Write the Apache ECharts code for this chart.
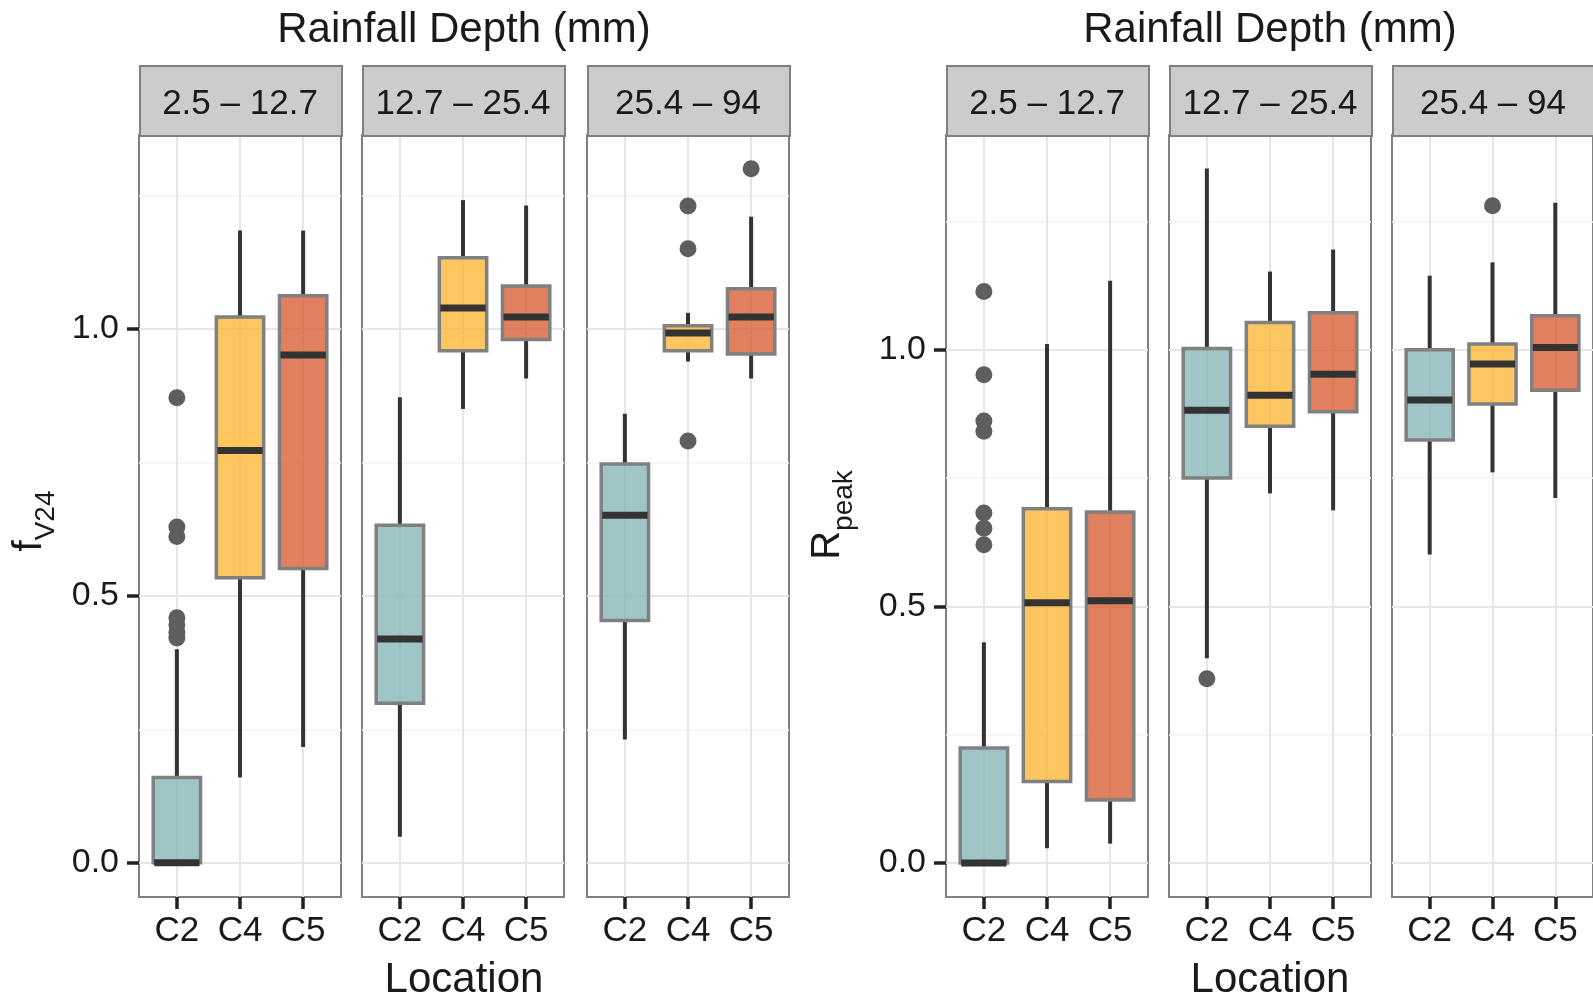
<!DOCTYPE html>
<html>
<head>
<meta charset="utf-8">
<script src="https://cdn.jsdelivr.net/npm/echarts@6/dist/echarts.min.js"></script>
<style>
html,body{margin:0;padding:0;background:#ffffff;}
#main{width:1593px;height:997px;}
</style>
</head>
<body>
<div id="main"></div>
<script>
// ---------------- data ----------------
const categories = ['C2', 'C4', 'C5'];
const depthBins = ['2.5 \u2013 12.7', '12.7 \u2013 25.4', '25.4 \u2013 94'];
const yTickValues = [0, 0.5, 1.0];
const yMinorValues = [0.25, 0.75, 1.25];
const panelTitle = 'Rainfall Depth (mm)';
const xTitle = 'Location';

// five-number summaries [lower whisker, Q1, median, Q3, upper whisker] for C2, C4, C5
const fv24Bin1 = [[0.000, 0.000, 0.000, 0.160, 0.400], [0.160, 0.534, 0.772, 1.022, 1.184], [0.217, 0.551, 0.951, 1.062, 1.184]];
const fv24Bin2 = [[0.049, 0.299, 0.419, 0.632, 0.872], [0.850, 0.959, 1.039, 1.133, 1.241], [0.907, 0.980, 1.022, 1.080, 1.231]];
const fv24Bin3 = [[0.231, 0.454, 0.651, 0.747, 0.841], [0.939, 0.959, 0.992, 1.006, 1.030], [0.907, 0.953, 1.022, 1.075, 1.210]];
const fv24Out1 = [['C2', 0.871], ['C2', 0.629], ['C2', 0.611], ['C2', 0.459], ['C2', 0.446], ['C2', 0.432], ['C2', 0.421]];
const fv24Out2 = [];
const fv24Out3 = [['C4', 1.230], ['C4', 1.150], ['C4', 0.790], ['C5', 1.300]];

const rpeakBin1 = [[0.000, 0.000, 0.000, 0.224, 0.430], [0.029, 0.159, 0.507, 0.690, 1.011], [0.038, 0.123, 0.511, 0.684, 1.134]];
const rpeakBin2 = [[0.399, 0.750, 0.882, 1.002, 1.353], [0.720, 0.851, 0.911, 1.053, 1.152], [0.687, 0.879, 0.952, 1.072, 1.195]];
const rpeakBin3 = [[0.601, 0.824, 0.902, 1.000, 1.144], [0.761, 0.894, 0.972, 1.011, 1.170], [0.711, 0.921, 1.004, 1.066, 1.286]];
const rpeakOut1 = [['C2', 1.113], ['C2', 0.951], ['C2', 0.861], ['C2', 0.841], ['C2', 0.682], ['C2', 0.652], ['C2', 0.620]];
const rpeakOut2 = [['C2', 0.359]];
const rpeakOut3 = [['C4', 1.280]];

// ---------------- styling / layout ----------------
const FONT = '"Liberation Sans", Arial, Helvetica, sans-serif';
const TXT = '#1a1a1a';
const boxFill = ['rgba(127,177,179,0.75)', 'rgba(254,179,43,0.75)', 'rgba(214,86,42,0.75)'];
const panelW = 202, plotTop = 135, plotH = 762, stripTop = 65, stripH = 70;

const chartDefs = [
  { lefts: [139, 362, 587], yMin: -0.064, yMax: 1.363,
    boxes: [fv24Bin1, fv24Bin2, fv24Bin3], outs: [fv24Out1, fv24Out2, fv24Out3],
    yName: '{m|f}{s|V24}', yNameX: 35, yNameY: 521 },
  { lefts: [946, 1169, 1392], yMin: -0.066, yMax: 1.418,
    boxes: [rpeakBin1, rpeakBin2, rpeakBin3], outs: [rpeakOut1, rpeakOut2, rpeakOut3],
    yName: '{m|R}{s|peak}', yNameX: 833, yNameY: 515 }
];

function renderBox(params, api) {
  const xv = api.value(0);
  const lo = api.coord([xv, api.value(1)]);
  const q1 = api.coord([xv, api.value(2)]);
  const md = api.coord([xv, api.value(3)]);
  const q3 = api.coord([xv, api.value(4)]);
  const hi = api.coord([xv, api.value(5)]);
  const half = api.size([0.75, 0])[0] / 2;
  const x = md[0];
  return {
    type: 'group',
    children: [
      { type: 'line', shape: { x1: x, y1: lo[1], x2: x, y2: q1[1] }, style: { stroke: '#333333', lineWidth: 4 } },
      { type: 'line', shape: { x1: x, y1: q3[1], x2: x, y2: hi[1] }, style: { stroke: '#333333', lineWidth: 4 } },
      { type: 'rect', shape: { x: x - half, y: q3[1], width: 2 * half, height: q1[1] - q3[1] },
        style: { fill: boxFill[Math.round(xv) - 1], stroke: '#808080', lineWidth: 3.5 } },
      { type: 'line', shape: { x1: x - half + 1, y1: md[1], x2: x + half - 1, y2: md[1] }, style: { stroke: '#333333', lineWidth: 7 } }
    ]
  };
}

const grids = [], xAxes = [], yAxes = [], series = [], graphics = [];
let gi = 0;
chartDefs.forEach((cd, ci) => {
  for (let p = 0; p < 3; p++) {
    const left = cd.lefts[p];
    grids.push({ left: left, top: plotTop, width: panelW, height: plotH, show: true,
      borderColor: '#808080', borderWidth: 2, backgroundColor: '#ffffff', containLabel: false });
    xAxes.push({
      type: 'value', gridIndex: gi, min: 0.4, max: 3.6, position: 'bottom',
      axisLine: { show: false, onZero: false }, splitLine: { show: false },
      axisTick: { show: true, inside: false, customValues: [1, 2, 3], length: 12, lineStyle: { color: '#222222', width: 3.5 } },
      axisLabel: { show: true, customValues: [1, 2, 3], margin: 17, fontSize: 35, fontFamily: FONT, color: TXT,
        formatter: v => categories[Math.round(v) - 1] }
    });
    yAxes.push({
      type: 'value', gridIndex: gi, min: cd.yMin, max: cd.yMax, position: 'left',
      axisLine: { show: false, onZero: false }, splitLine: { show: false },
      axisTick: { show: p === 0, customValues: yTickValues, length: 12, lineStyle: { color: '#222222', width: 3.5 } },
      axisLabel: { show: p === 0, customValues: yTickValues, margin: 20, fontSize: 34, fontFamily: FONT, color: TXT,
        formatter: v => v.toFixed(1) }
    });
    const boxData = cd.boxes[p].map((r, k) => [k + 1].concat(r));
    const major = { color: '#e6e6e6', width: 2, type: 'solid' };
    const minor = { color: '#f3f3f3', width: 1.5, type: 'solid' };
    const mlData = []
      .concat(yMinorValues.map(v => ({ yAxis: v, lineStyle: minor })))
      .concat(yTickValues.map(v => ({ yAxis: v, lineStyle: major })))
      .concat(categories.map((c, k) => ({ xAxis: k + 1, lineStyle: major })));
    series.push({
      type: 'custom', xAxisIndex: gi, yAxisIndex: gi, z: 3,
      renderItem: renderBox, data: boxData, encode: { x: 0, y: [1, 2, 3, 4, 5] },
      animation: false, silent: true,
      markLine: { silent: true, symbol: ['none', 'none'], z: 1, animation: false,
        label: { show: false }, emphasis: { disabled: true }, data: mlData }
    });
    series.push({
      type: 'scatter', xAxisIndex: gi, yAxisIndex: gi, z: 4,
      data: cd.outs[p].map(o => [categories.indexOf(o[0]) + 1, o[1]]),
      symbol: 'circle', symbolSize: 17, itemStyle: { color: '#5e5e5e', opacity: 1 },
      animation: false, silent: true
    });
    // facet strip
    graphics.push({ type: 'rect', left: left, top: stripTop, z: 10,
      shape: { width: panelW, height: stripH }, style: { fill: '#cccccc', stroke: '#808080', lineWidth: 2 } });
    graphics.push({ type: 'text', x: left + panelW / 2, y: stripTop + stripH / 2 + 4, z: 11,
      style: { text: depthBins[p], fontSize: 35, fontFamily: FONT, fill: TXT, align: 'center', verticalAlign: 'middle' } });
    gi++;
  }
  const cx = (cd.lefts[0] + cd.lefts[2] + panelW) / 2;
  graphics.push({ type: 'text', x: cx, y: 30, z: 11,
    style: { text: panelTitle, fontSize: 42, fontFamily: FONT, fill: TXT, align: 'center', verticalAlign: 'middle' } });
  graphics.push({ type: 'text', x: cx, y: 980, z: 11,
    style: { text: xTitle, fontSize: 42, fontFamily: FONT, fill: TXT, align: 'center', verticalAlign: 'middle' } });
  graphics.push({ type: 'text', x: cd.yNameX, y: cd.yNameY, rotation: Math.PI / 2, z: 11,
    style: { text: cd.yName, fontFamily: FONT, fill: TXT, align: 'center', verticalAlign: 'middle',
      rich: { m: { fontSize: 40, fontFamily: FONT, fill: TXT, padding: [0, 0, 10, 0] },
              s: { fontSize: 28, fontFamily: FONT, fill: TXT, verticalAlign: 'bottom' } } } });
});

const chart = echarts.init(document.getElementById('main'), null, { renderer: 'canvas' });
chart.setOption({
  animation: false,
  backgroundColor: '#ffffff',
  textStyle: { fontFamily: FONT },
  grid: grids, xAxis: xAxes, yAxis: yAxes, series: series,
  graphic: graphics
});
</script>
</body>
</html>
